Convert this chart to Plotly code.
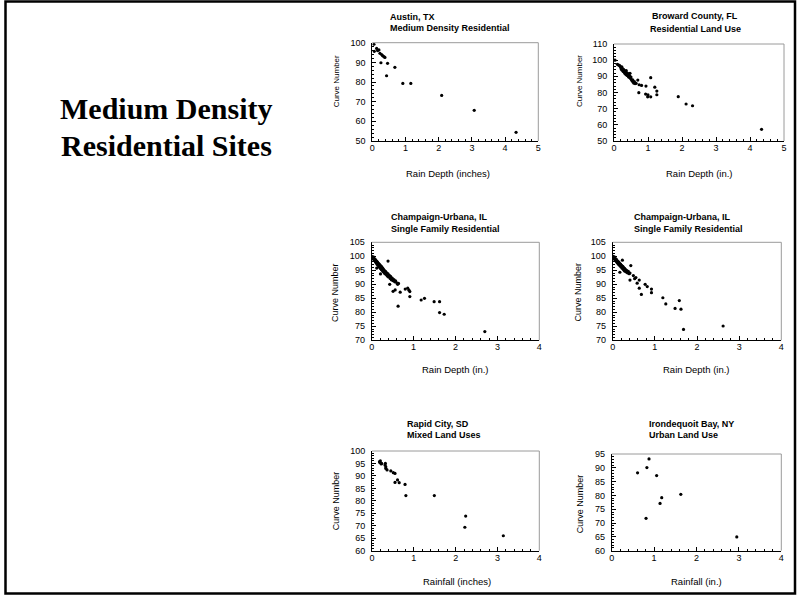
import plotly.graph_objects as go

W, H = 797, 597

# ---------------- data ----------------
austin_x = [0.05, 0.06, 0.13, 0.16, 0.20, 0.23, 0.28, 0.31, 0.35, 0.38, 0.26, 0.46, 0.68, 0.43, 0.92, 1.16, 2.09, 3.07, 4.33]
austin_y = [99.2, 95.6, 97.1, 96.0, 96.3, 94.6, 94.0, 93.4, 92.9, 92.5, 89.8, 89.5, 87.5, 83.2, 79.3, 79.3, 73.2, 65.6, 54.4]

broward_x = [0.03, 0.10, 0.13, 0.16, 0.18, 0.20, 0.21, 0.23, 0.24, 0.25, 0.27, 0.28, 0.30, 0.31, 0.32, 0.34, 0.35,
             0.36, 0.38, 0.39, 0.40, 0.42, 0.43, 0.44, 0.46, 0.47, 0.48, 0.50, 0.51, 0.53, 0.55, 0.56, 0.58, 0.60,
             0.62, 0.65, 0.70, 0.74, 0.81, 0.94, 0.73, 0.93, 1.00, 0.99, 1.08, 1.08, 1.20, 1.26, 1.26, 1.89, 2.12,
             2.31, 4.34]
broward_y = [100.0, 97.4, 97.0, 96.8, 96.2, 95.5, 94.5, 95.8, 93.8, 94.8, 93.0, 94.3, 92.5, 93.6, 91.8, 92.8, 91.2,
             93.5, 90.6, 92.0, 91.0, 90.0, 91.5, 89.5, 90.4, 91.9, 88.8, 89.6, 88.0, 87.2, 87.9, 86.5, 85.8, 86.8,
             85.5, 85.7, 87.7, 84.8, 84.4, 84.0, 79.9, 79.0, 78.5, 77.3, 77.3, 89.2, 83.3, 80.9, 78.6, 77.4, 72.9,
             71.8, 57.2]

champ1_x = [0.00, 0.02, 0.03, 0.04, 0.05, 0.06, 0.07, 0.08, 0.09, 0.10, 0.11, 0.12, 0.13, 0.14, 0.15, 0.16, 0.17,
            0.18, 0.19, 0.20, 0.21, 0.22, 0.23, 0.24, 0.25, 0.26, 0.27, 0.28, 0.29, 0.30, 0.31, 0.33, 0.34, 0.36,
            0.37, 0.39, 0.40, 0.42, 0.44, 0.45, 0.47, 0.49, 0.51, 0.53, 0.55, 0.57, 0.60, 0.62, 0.64,
            0.39, 0.21, 0.12, 0.43, 0.51, 0.56, 0.68, 0.63, 0.80, 0.86, 0.89, 0.91, 0.91, 1.18, 1.26, 1.49, 1.62,
            1.62, 1.73, 2.70]
champ1_y = [100.0, 99.6, 99.2, 99.8, 98.9, 99.3, 98.5, 98.9, 98.0, 98.6, 97.6, 98.2, 97.2, 97.9, 96.8, 97.5, 96.4,
            97.2, 96.0, 96.9, 95.6, 96.5, 95.3, 96.2, 95.0, 95.8, 94.6, 95.4, 94.3, 95.0, 93.9, 94.6, 93.5, 94.1,
            93.0, 93.7, 92.6, 93.2, 92.1, 92.8, 91.6, 92.2, 91.3, 91.7, 90.9, 91.2, 90.5, 90.0, 90.3,
            98.3, 93.7, 95.8, 90.0, 87.5, 88.0, 87.2, 82.2, 88.3, 88.6, 87.9, 87.4, 85.6, 84.4, 85.0, 83.8, 83.8,
            79.9, 79.3, 73.1]

champ2_x = [0.00, 0.02, 0.03, 0.04, 0.05, 0.06, 0.07, 0.08, 0.09, 0.10, 0.11, 0.12, 0.13, 0.14, 0.15, 0.16, 0.17,
            0.18, 0.19, 0.20, 0.21, 0.22, 0.23, 0.24, 0.25, 0.26, 0.27, 0.28, 0.29, 0.30, 0.32, 0.33, 0.35, 0.37,
            0.39, 0.41,
            0.17, 0.43, 0.41, 0.49, 0.52, 0.55, 0.58, 0.63, 0.63, 0.68, 0.77, 0.82, 0.92, 0.92, 1.19, 1.26, 1.48,
            1.58, 1.62, 1.68, 2.62]
champ2_y = [100.1, 99.7, 99.3, 99.8, 99.0, 98.6, 99.2, 98.3, 98.8, 97.9, 98.4, 97.5, 98.1, 97.2, 97.8, 96.8, 97.4,
            96.5, 97.1, 96.2, 96.8, 95.8, 98.6, 96.4, 95.4, 96.0, 95.0, 95.7, 94.7, 95.3, 94.4, 95.0, 94.1, 94.6,
            93.8, 94.0,
            94.3, 96.7, 91.5, 93.1, 92.0, 92.4, 90.4, 91.5, 88.6, 86.4, 90.0, 89.2, 88.3, 87.0, 85.2, 83.0, 81.4,
            84.2, 81.1, 73.9, 75.1]

rapid_x = [0.18, 0.19, 0.20, 0.22, 0.23, 0.31, 0.32, 0.33, 0.33, 0.36, 0.45, 0.51, 0.55, 0.55, 0.61, 0.65, 0.79,
           0.81, 1.49, 2.24, 2.22, 3.14]
rapid_y = [95.7, 95.3, 96.0, 94.8, 95.0, 94.4, 95.0, 93.7, 93.0, 92.4, 92.0, 91.3, 91.0, 87.4, 88.4, 87.3, 86.6,
           82.1, 82.1, 73.9, 69.4, 66.0]

iron_x = [0.61, 0.83, 0.88, 1.06, 1.18, 1.14, 1.63, 0.81, 2.95]
iron_y = [88.2, 90.1, 93.2, 87.2, 79.2, 77.1, 80.4, 71.7, 65.0]

panels = [
    dict(x=austin_x, y=austin_y, t1="Austin, TX", t2="Medium Density Residential", xt="Rain Depth (inches)",
         xr=[0, 5], yr=[50, 100], yd=10, ym=2),
    dict(x=broward_x, y=broward_y, t1="Broward County, FL", t2="Residential Land Use", xt="Rain Depth (in.)",
         xr=[0, 5], yr=[50, 110], yd=10, ym=2),
    dict(x=champ1_x, y=champ1_y, t1="Champaign-Urbana, IL", t2="Single Family Residential", xt="Rain Depth (in.)",
         xr=[0, 4], yr=[70, 105], yd=5, ym=1),
    dict(x=champ2_x, y=champ2_y, t1="Champaign-Urbana, IL", t2="Single Family Residential", xt="Rain Depth (in.)",
         xr=[0, 4], yr=[70, 105], yd=5, ym=1),
    dict(x=rapid_x, y=rapid_y, t1="Rapid City, SD", t2="Mixed Land Uses", xt="Rainfall (inches)",
         xr=[0, 4], yr=[60, 100], yd=5, ym=1),
    dict(x=iron_x, y=iron_y, t1="Irondequoit Bay, NY", t2="Urban Land Use", xt="Rainfall (in.)",
         xr=[0, 4], yr=[60, 95], yd=5, ym=1),
]

# ---------------- layout geometry (pixels) ----------------
boxes = [  # left, right, top, bottom
    (372.3, 538.3, 42.7, 141.0),
    (614.0, 784.0, 44.0, 141.0),
    (371.7, 539.3, 242.3, 340.3),
    (612.7, 781.3, 242.3, 340.3),
    (372.0, 539.3, 451.0, 550.7),
    (611.7, 781.3, 454.0, 550.7),
]
title_pos = [  # x, baseline1, baseline2, anchor x
    (387.7, 20.0, 31.0, "left"),
    (695.0, 18.5, 31.7, "center"),
    (389.0, 220.0, 231.7, "left"),
    (631.7, 220.0, 231.7, "left"),
    (405.0, 426.7, 437.7, "left"),
    (647.3, 426.7, 438.3, "left"),
]
xtitle_pos = [(447.7, 173.3), (699.0, 173.0), (455.0, 370.0), (696.7, 370.0), (456.7, 581.0), (696.7, 581.0)]
ytitle_pos = [(336.0, 81.3, 8), (579.0, 81.0, 8), (335.0, 293.0, 9), (577.0, 292.5, 9), (336.0, 501.3, 9),
              (580.0, 504.2, 9)]


def px(x):
    return x / W


def py(y):
    return 1 - y / H


FONT = "Liberation Sans, Arial, sans-serif"
fig = go.Figure()
annotations = []
shapes = []
layout_axes = {}

for i, (p, b) in enumerate(zip(panels, boxes)):
    n = i + 1
    xa = "x" if n == 1 else f"x{n}"
    ya = "y" if n == 1 else f"y{n}"
    fig.add_trace(go.Scatter(x=p["x"], y=p["y"], mode="markers", xaxis=xa, yaxis=ya,
                             marker=dict(color="black", size=3.2, line=dict(width=0)),
                             showlegend=False, hoverinfo="skip"))
    l, r, t, bt = b
    common = dict(showgrid=False, zeroline=False, showline=True, linecolor="black", linewidth=1,
                  ticks="inside", ticklen=4, tickcolor="black", tickwidth=1,
                  tickfont=dict(family=FONT, size=9, color="black"))
    layout_axes["xaxis" if n == 1 else f"xaxis{n}"] = dict(
        domain=[px(l), px(r)], range=p["xr"], dtick=1, tick0=0, anchor=ya,
        ticklabelstandoff=-2,
        minor=dict(ticks="inside", ticklen=2, dtick=0.2, tickcolor="black", showgrid=False),
        **common)
    layout_axes["yaxis" if n == 1 else f"yaxis{n}"] = dict(
        domain=[py(bt), py(t)], range=p["yr"], dtick=p["yd"], tick0=0, anchor=xa,
        ticklabelstandoff=4,
        minor=dict(ticks="inside", ticklen=2, dtick=p["ym"], tickcolor="black", showgrid=False),
        **common)
    # light frame on top and right
    shapes.append(dict(type="line", xref="paper", yref="paper", x0=px(l), x1=px(r), y0=py(t), y1=py(t),
                       line=dict(color="#9a9a9a", width=1)))
    shapes.append(dict(type="line", xref="paper", yref="paper", x0=px(r), x1=px(r), y0=py(t), y1=py(bt),
                       line=dict(color="#9a9a9a", width=1)))
    # panel titles
    tx, b1, b2, anc = title_pos[i]
    for txt, base in ((p["t1"], b1), (p["t2"], b2)):
        annotations.append(dict(text=f"<b>{txt}</b>", x=px(tx), y=py(base - 3), xref="paper", yref="paper",
                                xanchor=anc, yanchor="middle", showarrow=False,
                                font=dict(family=FONT, size=9, color="black")))
    xx, xy = xtitle_pos[i]
    annotations.append(dict(text=p["xt"], x=px(xx), y=py(xy), xref="paper", yref="paper", xanchor="center",
                            yanchor="middle", showarrow=False, font=dict(family=FONT, size=9.5, color="black")))
    yx, yy, ys = ytitle_pos[i]
    annotations.append(dict(text="Curve Number", x=px(yx), y=py(yy), xref="paper", yref="paper",
                            xanchor="center", yanchor="middle", textangle=-90, showarrow=False,
                            font=dict(family=FONT, size=ys, color="black")))

# main heading
for txt, yc in (("Medium Density", 108), ("Residential Sites", 145)):
    annotations.append(dict(text=f"<b>{txt}</b>", x=px(166), y=py(yc), xref="paper", yref="paper",
                            xanchor="center", yanchor="middle", showarrow=False,
                            font=dict(family="Liberation Serif, Times New Roman, serif", size=30, color="black")))

# outer border
shapes.append(dict(type="rect", xref="paper", yref="paper", x0=px(5.5), x1=px(795), y0=py(593.5), y1=py(1.5),
                   line=dict(color="black", width=2.5)))

fig.update_layout(width=W, height=H, margin=dict(l=0, r=0, t=0, b=0, autoexpand=False),
                  paper_bgcolor="white", plot_bgcolor="white", showlegend=False,
                  annotations=annotations, shapes=shapes, **layout_axes)

fig.write_html("out.html", config={"displayModeBar": False},
               post_script="document.body.style.margin='0';document.body.style.overflow='hidden';")
